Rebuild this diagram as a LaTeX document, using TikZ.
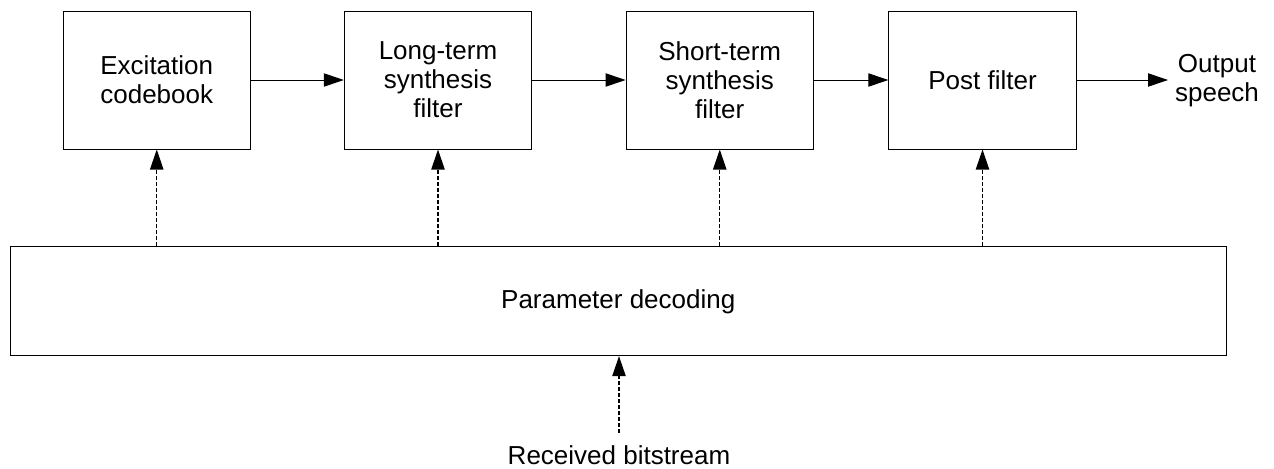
\documentclass[tikz,border=0pt]{standalone}
\usepackage{fontspec}
\setmainfont{Liberation Sans}
\usetikzlibrary{arrows.meta}
\begin{document}
\begin{tikzpicture}[x=0.75pt,y=-0.75pt,
  blockbox/.style={draw=black,line width=0.75pt,inner sep=0pt,align=center,
    font=\fontsize{19.5}{21.7}\selectfont},
  lbl/.style={inner sep=0pt,align=center,font=\fontsize{19.5}{21.7}\selectfont},
  flow/.style={line width=0.75pt,-{Triangle[length=15pt,width=10pt]}},
  ctrl/.style={line width=0.9pt,dash pattern=on 3pt off 1.5pt,-{Triangle[length=15pt,width=10pt]}}]
\useasboundingbox (0,0) rectangle (1274,468);
\node[blockbox,minimum width=140.6pt,minimum height=103.5pt] (exc) at (156.75,80) {Excitation\\codebook};
\node[blockbox,minimum width=140.6pt,minimum height=103.5pt] (ltp) at (438,80) {Long-term\\synthesis\\filter};
\node[blockbox,minimum width=140.6pt,minimum height=103.5pt] (stp) at (719.75,80) {Short-term\\synthesis\\filter};
\node[blockbox,minimum width=140.6pt,minimum height=103.5pt] (post) at (982.5,80) {Post filter};
\node[blockbox,minimum width=912pt,minimum height=81.5pt] (dec) at (618.25,301.3) {Parameter decoding};
\node[lbl] (out) at (1217,81) {Output\\speech};
\node[lbl] (rx) at (619,455) {Received bitstream};
\coordinate (outtip) at (1168,80);
\coordinate (rxstart) at (619,433);
\draw[flow] (exc.east) -- (ltp.west);
\draw[flow] (ltp.east) -- (stp.west);
\draw[flow] (stp.east) -- (post.west);
\draw[flow] (post.east) -- (outtip);
\draw[ctrl] (dec.north -| exc.south) -- (exc.south);
\draw[ctrl] (dec.north -| ltp.south) -- (ltp.south);
\draw[ctrl] (dec.north -| stp.south) -- (stp.south);
\draw[ctrl] (dec.north -| post.south) -- (post.south);
\draw[ctrl] (rxstart) -- (rxstart |- dec.south);
\end{tikzpicture}
\end{document}
